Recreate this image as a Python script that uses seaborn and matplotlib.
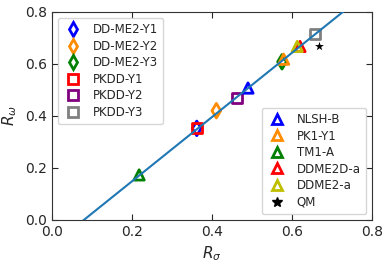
import matplotlib
matplotlib.use("Agg")
import matplotlib.pyplot as plt
import seaborn as sns
import numpy as np
import pandas as pd

sns.set_style("ticks")
plt.rcParams['font.family'] = ['DejaVu Sans']

# group 1 (diamonds / squares)
names1 = ["DD-ME2-Y1", "DD-ME2-Y2", "DD-ME2-Y3", "PKDD-Y1", "PKDD-Y2", "PKDD-Y3"]
x1 = [0.362, 0.411, 0.575, 0.362, 0.462, 0.658]
y1 = [0.352, 0.420, 0.608, 0.353, 0.470, 0.715]
markers1 = ["d", "d", "d", "s", "s", "s"]
colors1 = ["blue", "darkorange", "green", "red", "purple", "gray"]

# group 2 (triangles / star)
names2 = ["NLSH-B", "PK1-Y1", "TM1-A", "DDME2D-a", "DDME2-a", "QM"]
x2 = [0.490, 0.579, 0.218, 0.620, 0.613, 0.667]
y2 = [0.507, 0.618, 0.173, 0.667, 0.667, 0.670]
markers2 = ["^", "^", "^", "^", "^", "*"]
colors2 = ["blue", "darkorange", "green", "red", "y", "black"]

# fit line
line_x = [0.0, 0.8]
slope, intercept = 1.236, -0.0989
line_y = [slope * v + intercept for v in line_x]

fig, ax = plt.subplots(figsize=(3.9, 2.64), dpi=100)

h1 = []
for n, x, y, m, c in zip(names1, x1, y1, markers1, colors1):
    df = pd.DataFrame({"x": [x], "y": [y]})
    sns.scatterplot(data=df, x="x", y="y", marker=m, s=55 if m == "d" else 50,
                    facecolors="none", edgecolor=c, linewidth=2, ax=ax, zorder=2)
    h1.append(plt.Line2D([], [], marker=m, color=c, mfc="none", mew=2,
                         ms=7.5 if m == "d" else 7, ls="none", label=n))
h2 = []
for n, x, y, m, c in zip(names2, x2, y2, markers2, colors2):
    df = pd.DataFrame({"x": [x], "y": [y]})
    if m == "*":
        sns.scatterplot(data=df, x="x", y="y", marker=m, s=45, color=c,
                        edgecolor=c, linewidth=0, ax=ax, zorder=2)
        h2.append(plt.Line2D([], [], marker=m, color=c, ms=7, ls="none", label=n))
    else:
        sns.scatterplot(data=df, x="x", y="y", marker=m, s=55,
                        facecolors="none", edgecolor=c, linewidth=2, ax=ax, zorder=2)
        h2.append(plt.Line2D([], [], marker=m, color=c, mfc="none", mew=2,
                             ms=7, ls="none", label=n))

ldf = pd.DataFrame({"x": line_x, "y": line_y})
sns.lineplot(data=ldf, x="x", y="y", color="#1f77b4", lw=1.5, ax=ax, zorder=3)

ax.set_xlim(0, 0.8)
ax.set_ylim(0, 0.8)
ax.set_xticks([0.0, 0.2, 0.4, 0.6, 0.8])
ax.set_yticks([0.0, 0.2, 0.4, 0.6, 0.8])
ax.tick_params(direction="in", top=True, right=True, labelsize=10, length=4)
ax.set_xlabel(r"$R_\sigma$", fontsize=11)
ax.set_ylabel(r"$R_\omega$", fontsize=11)
for s in ax.spines.values():
    s.set_color("#333333")

leg1 = ax.legend(handles=h1, loc="upper left", fontsize=8.5, frameon=True,
                 handletextpad=0.8, handlelength=1.7, borderpad=0.45,
                 labelspacing=0.3)
ax.add_artist(leg1)
ax.legend(handles=h2, loc="lower right", fontsize=8.5, frameon=True,
          handletextpad=0.8, handlelength=1.7, borderpad=0.45,
          labelspacing=0.3)

fig.subplots_adjust(left=0.133, right=0.954, top=0.955, bottom=0.167)
fig.savefig("out.png", dpi=100)
